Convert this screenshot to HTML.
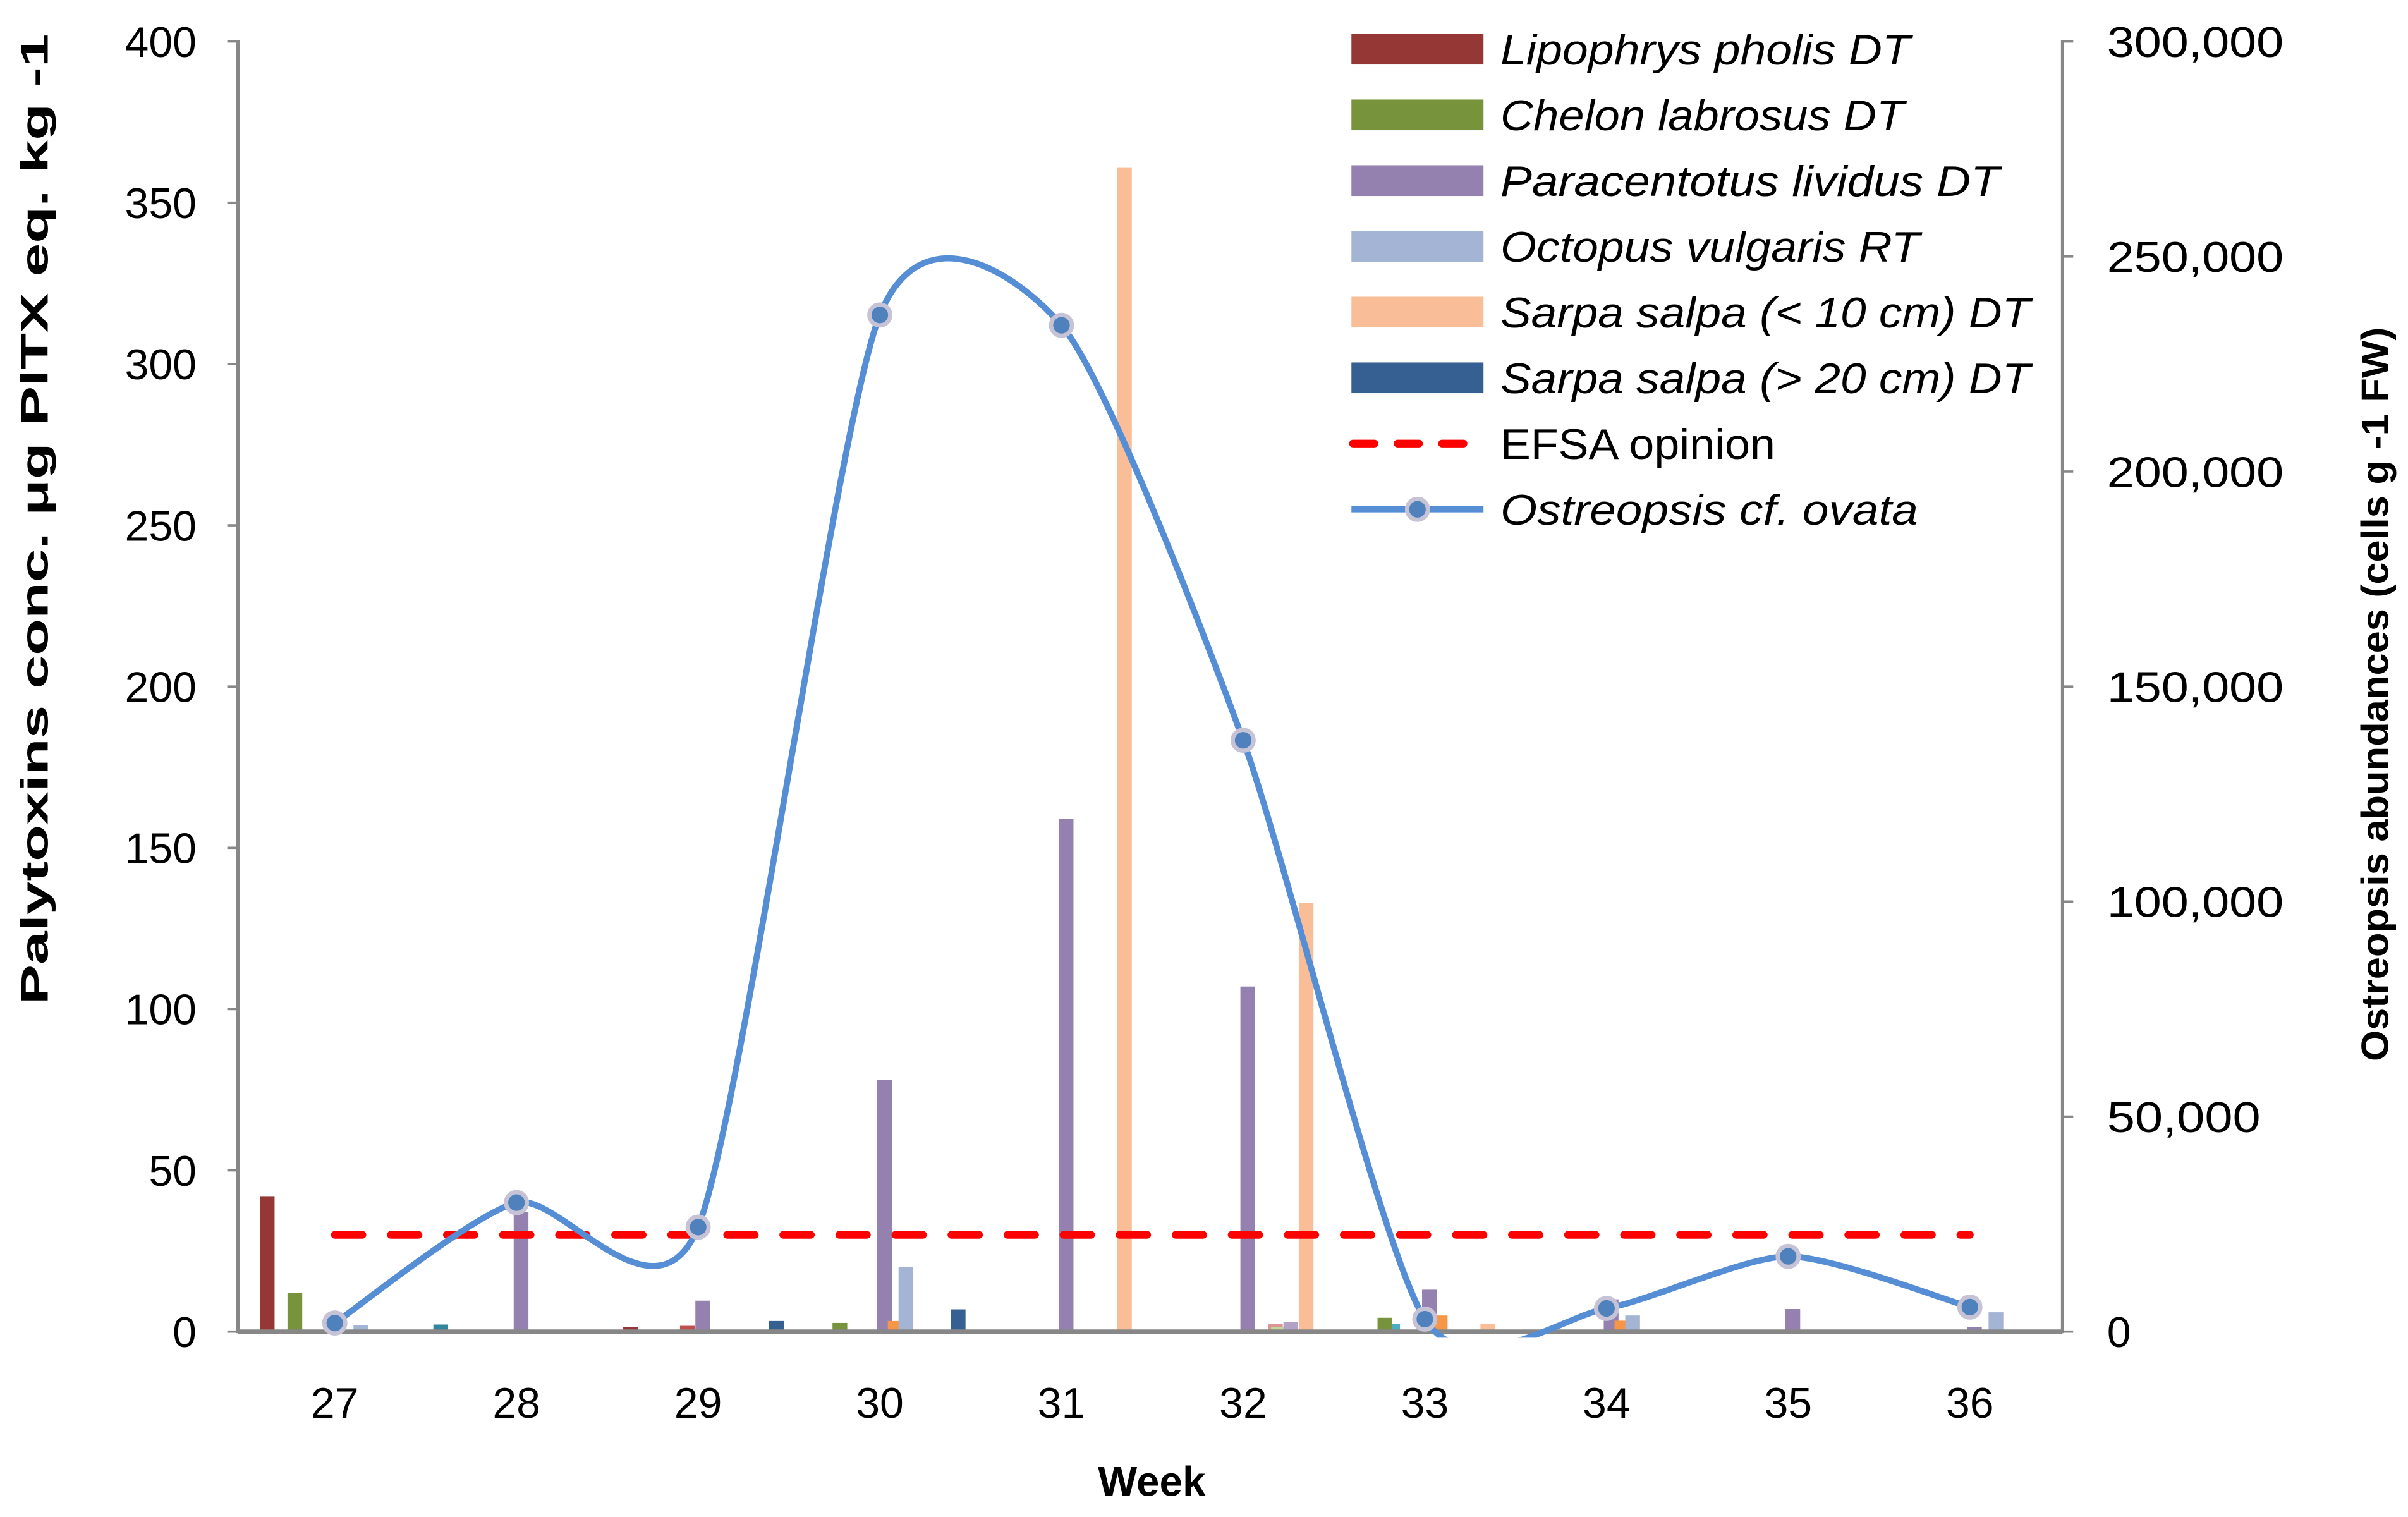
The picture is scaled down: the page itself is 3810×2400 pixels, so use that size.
<!DOCTYPE html>
<html><head><meta charset="utf-8">
<style>
html,body{margin:0;padding:0;background:#fff;}
svg{display:block;}
text{font-family:"Liberation Sans",sans-serif;fill:#000;}
</style></head>
<body>
<svg id="chart" width="3810" height="2400" viewBox="0 0 1568 987.7" preserveAspectRatio="none" xmlns="http://www.w3.org/2000/svg">
<defs><clipPath id="plotclip"><rect x="155" y="0" width="1190" height="871"/></clipPath></defs>
<g id="bars"></g>
<g id="axes"></g>
<g id="efsa"></g>
<g id="line" clip-path="url(#plotclip)"></g>
<g id="markers"></g>
<g id="legend"></g>
<text transform="translate(31,338) rotate(-90)" text-anchor="middle" font-weight="bold" font-size="25" textLength="632" lengthAdjust="spacingAndGlyphs">Palytoxins conc. μg PlTX eq. kg -1</text>
<text transform="translate(1555,452) rotate(-90)" text-anchor="middle" font-weight="bold" font-size="25" textLength="478" lengthAdjust="spacingAndGlyphs">Ostreopsis  abundances  (cells g -1 FW)</text>
<text x="750" y="974" text-anchor="middle" font-weight="bold" font-size="27">Week</text>
</svg>
<script>
const weeks = ["27","28","29","30","31","32","33","34","35","36"];
const leftTicks = [0,50,100,150,200,250,300,350,400];
const rightTicks = [0,50000,100000,150000,200000,250000,300000];
const rightTickLabels = ["0","50,000","100,000","150,000","200,000","250,000","300,000"];
// bar series values (µg PlTX eq. kg-1), per week 27..36
const lipophrysDT = [42,0,1.5,0,0,0,0,0,0,0];
const chelonDT = [12,0,0,2.7,0,0,4.3,0,0,0];
const paracentotusDT = [0,37,9.6,78,159,107,13,10,7,1.4];
const octopusRT = [2,0,0,20,0,0,0,5,0,6];
const sarpaSmallDT = [0,0,0,0,361,133,2.3,0,0,0];
const sarpaLargeDT = [0,0,3.3,6.9,0,0,0,0,0,0];
const orangeSeries = [0,0,0,3.3,0,0,5,3.4,0,0];
const pinkSeriesA = [0,0,1.8,0,0,0,0,0,0,0];
const pinkSeriesB = [0,0,0,0,0,2.5,0,0,0,0];
const lightGreenSeries = [0,0,0,0,0,1.5,0,0,0,0];
const lightPurpleSeries = [0,0,0,0,0,3,0,0,0,0];
const tealSeriesA = [2.2,0,0,0,0,0,0,0,0,0];
const tealSeriesB = [0,0,0,0,0,0,2.3,0,0,0];
// Ostreopsis cf. ovata abundance (cells g-1 FW)
const ostreopsis = [2000,30000,24300,236400,234000,137500,2900,5400,17500,5700];
const efsaValue = 30;

const NS="http://www.w3.org/2000/svg";
const X0=155,X1=1343,Y0=867,Y1=27;
function xCat(i){return 218+118.3*i;}
function yL(v){return Y0-(v/400)*(Y0-Y1);}
function yR(v){return Y0-(v/300000)*(Y0-Y1);}
function mk(tag,attrs,parent){const e=document.createElementNS(NS,tag);for(const k in attrs)e.setAttribute(k,attrs[k]);parent.appendChild(e);return e;}

const seriesDefs=[
 {vals:tealSeriesB,color:"#4BACC6",off:-21,name:"teal-b"},
 {vals:lipophrysDT,color:"#953735",off:-44,name:"lipophrys-pholis"},
 {vals:chelonDT,color:"#77933C",off:-26,name:"chelon-labrosus"},
 {vals:pinkSeriesA,color:"#C0504D",off:-7,name:"pink-a"},
 {vals:paracentotusDT,color:"#9481B0",off:3,name:"paracentotus-lividus"},
 {vals:orangeSeries,color:"#F79646",off:10,name:"orange-series"},
 {vals:octopusRT,color:"#A3B4D4",off:17,name:"octopus-vulgaris"},
 {vals:pinkSeriesB,color:"#D99694",off:21,name:"pink-b"},
 {vals:lightGreenSeries,color:"#C3D69B",off:23,name:"light-green"},
 {vals:lightPurpleSeries,color:"#B3A2C7",off:31,name:"light-purple"},
 {vals:sarpaSmallDT,color:"#F9BE98",off:41,name:"sarpa-small"},
 {vals:sarpaLargeDT,color:"#366092",off:51,name:"sarpa-large"},
 {vals:tealSeriesA,color:"#31859C",off:69,name:"teal-a"}
];
const gb=document.getElementById("bars");
seriesDefs.forEach(s=>{s.vals.forEach((v,i)=>{if(v<=0)return;
 const r=mk("rect",{x:xCat(i)+s.off-4.8,y:yL(v),width:9.6,height:Y0-yL(v),fill:s.color},gb);
 
 
});});

const ga=document.getElementById("axes");
mk("line",{x1:X0,y1:Y1-1,x2:X0,y2:Y0+1,stroke:"#878787","stroke-width":2.4},ga);
mk("line",{x1:X1,y1:Y1-1,x2:X1,y2:Y0+1,stroke:"#878787","stroke-width":2},ga);
mk("line",{x1:X0,y1:Y0,x2:X1,y2:Y0,stroke:"#878787","stroke-width":2.8},ga);
leftTicks.forEach(t=>{
 mk("line",{x1:X0-7,y1:yL(t),x2:X0,y2:yL(t),stroke:"#878787","stroke-width":1.5},ga);
 const tx=mk("text",{x:128,y:yL(t)+10,"text-anchor":"end","font-size":28},ga);tx.textContent=t;
 
 
});
rightTicks.forEach((t,i)=>{
 mk("line",{x1:X1,y1:yR(t),x2:X1+7,y2:yR(t),stroke:"#878787","stroke-width":1.5},ga);
 const tx=mk("text",{x:1372,y:yR(t)+10,"font-size":28},ga);tx.textContent=rightTickLabels[i];
 if(i>0){tx.setAttribute('textLength', i>1&&i<7||i==6 ? (rightTickLabels[i].length===7?115:100) : 100);tx.setAttribute('lengthAdjust','spacingAndGlyphs');}
 
 
});
weeks.forEach((w,i)=>{
 const tx=mk("text",{x:xCat(i),y:923,"text-anchor":"middle","font-size":28},ga);tx.textContent=w;
 
 
});

const ge=document.getElementById("efsa");
mk("line",{x1:xCat(0),y1:yL(efsaValue),x2:xCat(9),y2:yL(efsaValue),stroke:"#FF0000","stroke-width":5,"stroke-dasharray":"18 18.5","stroke-linecap":"round"},ge);

// smooth line (cardinal spline -> Bezier)
const T=1/8.5;
const pts=ostreopsis.map((v,i)=>[xCat(i),yR(v)]);
let d="M"+pts[0][0]+","+pts[0][1];
for(let i=0;i<pts.length-1;i++){
 const p0=pts[i-1]||pts[i],p1=pts[i],p2=pts[i+1],p3=pts[i+2]||pts[i+1];
 const c1=[p1[0]+(p2[0]-p0[0])*T,p1[1]+(p2[1]-p0[1])*T];
 const c2=[p2[0]-(p3[0]-p1[0])*T,p2[1]-(p3[1]-p1[1])*T];
 d+=" C"+c1[0]+","+c1[1]+" "+c2[0]+","+c2[1]+" "+p2[0]+","+p2[1];
}
mk("path",{d:d,fill:"none",stroke:"#558ED5","stroke-width":4},document.getElementById("line"));
const gm=document.getElementById("markers");
pts.forEach((p,i)=>{
 const c=mk("circle",{cx:p[0],cy:p[1],r:6.8,fill:"#4F81BD",stroke:"#C6C3D6","stroke-width":2.8},gm);
 
 
});

// legend
const gl=document.getElementById("legend");
const legendItems=[
 {t:"Lipophrys pholis DT",c:"#953735",w:267},
 {t:"Chelon labrosus DT",c:"#77933C",w:263},
 {t:"Paracentotus lividus DT",c:"#9481B0",w:325},
 {t:"Octopus vulgaris RT",c:"#A3B4D4",w:273},
 {t:"Sarpa salpa (< 10 cm) DT",c:"#F9BE98",w:345},
 {t:"Sarpa salpa (> 20 cm) DT",c:"#366092",w:345},
 {t:"EFSA opinion",c:"#FF0000",w:179,line:"dash"},
 {t:"Ostreopsis cf. ovata",c:"#558ED5",w:272,line:"marker"}
];
legendItems.forEach((it,i)=>{
 const cy=32+42.8*i;
 const g=mk("g",{},gl);
 
 
 if(!it.line){mk("rect",{x:880,y:cy-10,width:86,height:20,fill:it.c},g);}
 else if(it.line==="dash"){mk("line",{x1:881,y1:cy,x2:965,y2:cy,stroke:it.c,"stroke-width":5,"stroke-dasharray":"14 15","stroke-linecap":"round"},g);}
 else{mk("line",{x1:880,y1:cy,x2:966,y2:cy,stroke:it.c,"stroke-width":4},g);
   mk("circle",{cx:923,cy:cy,r:6.8,fill:"#4F81BD",stroke:"#C6C3D6","stroke-width":2.8},g);}
 const tx=mk("text",{x:977,y:cy+10,"font-size":28,"font-style":it.line==="dash"?"normal":"italic",textLength:it.w,lengthAdjust:"spacingAndGlyphs"},g);
 tx.textContent=it.t;
});
</script>
</body></html>
